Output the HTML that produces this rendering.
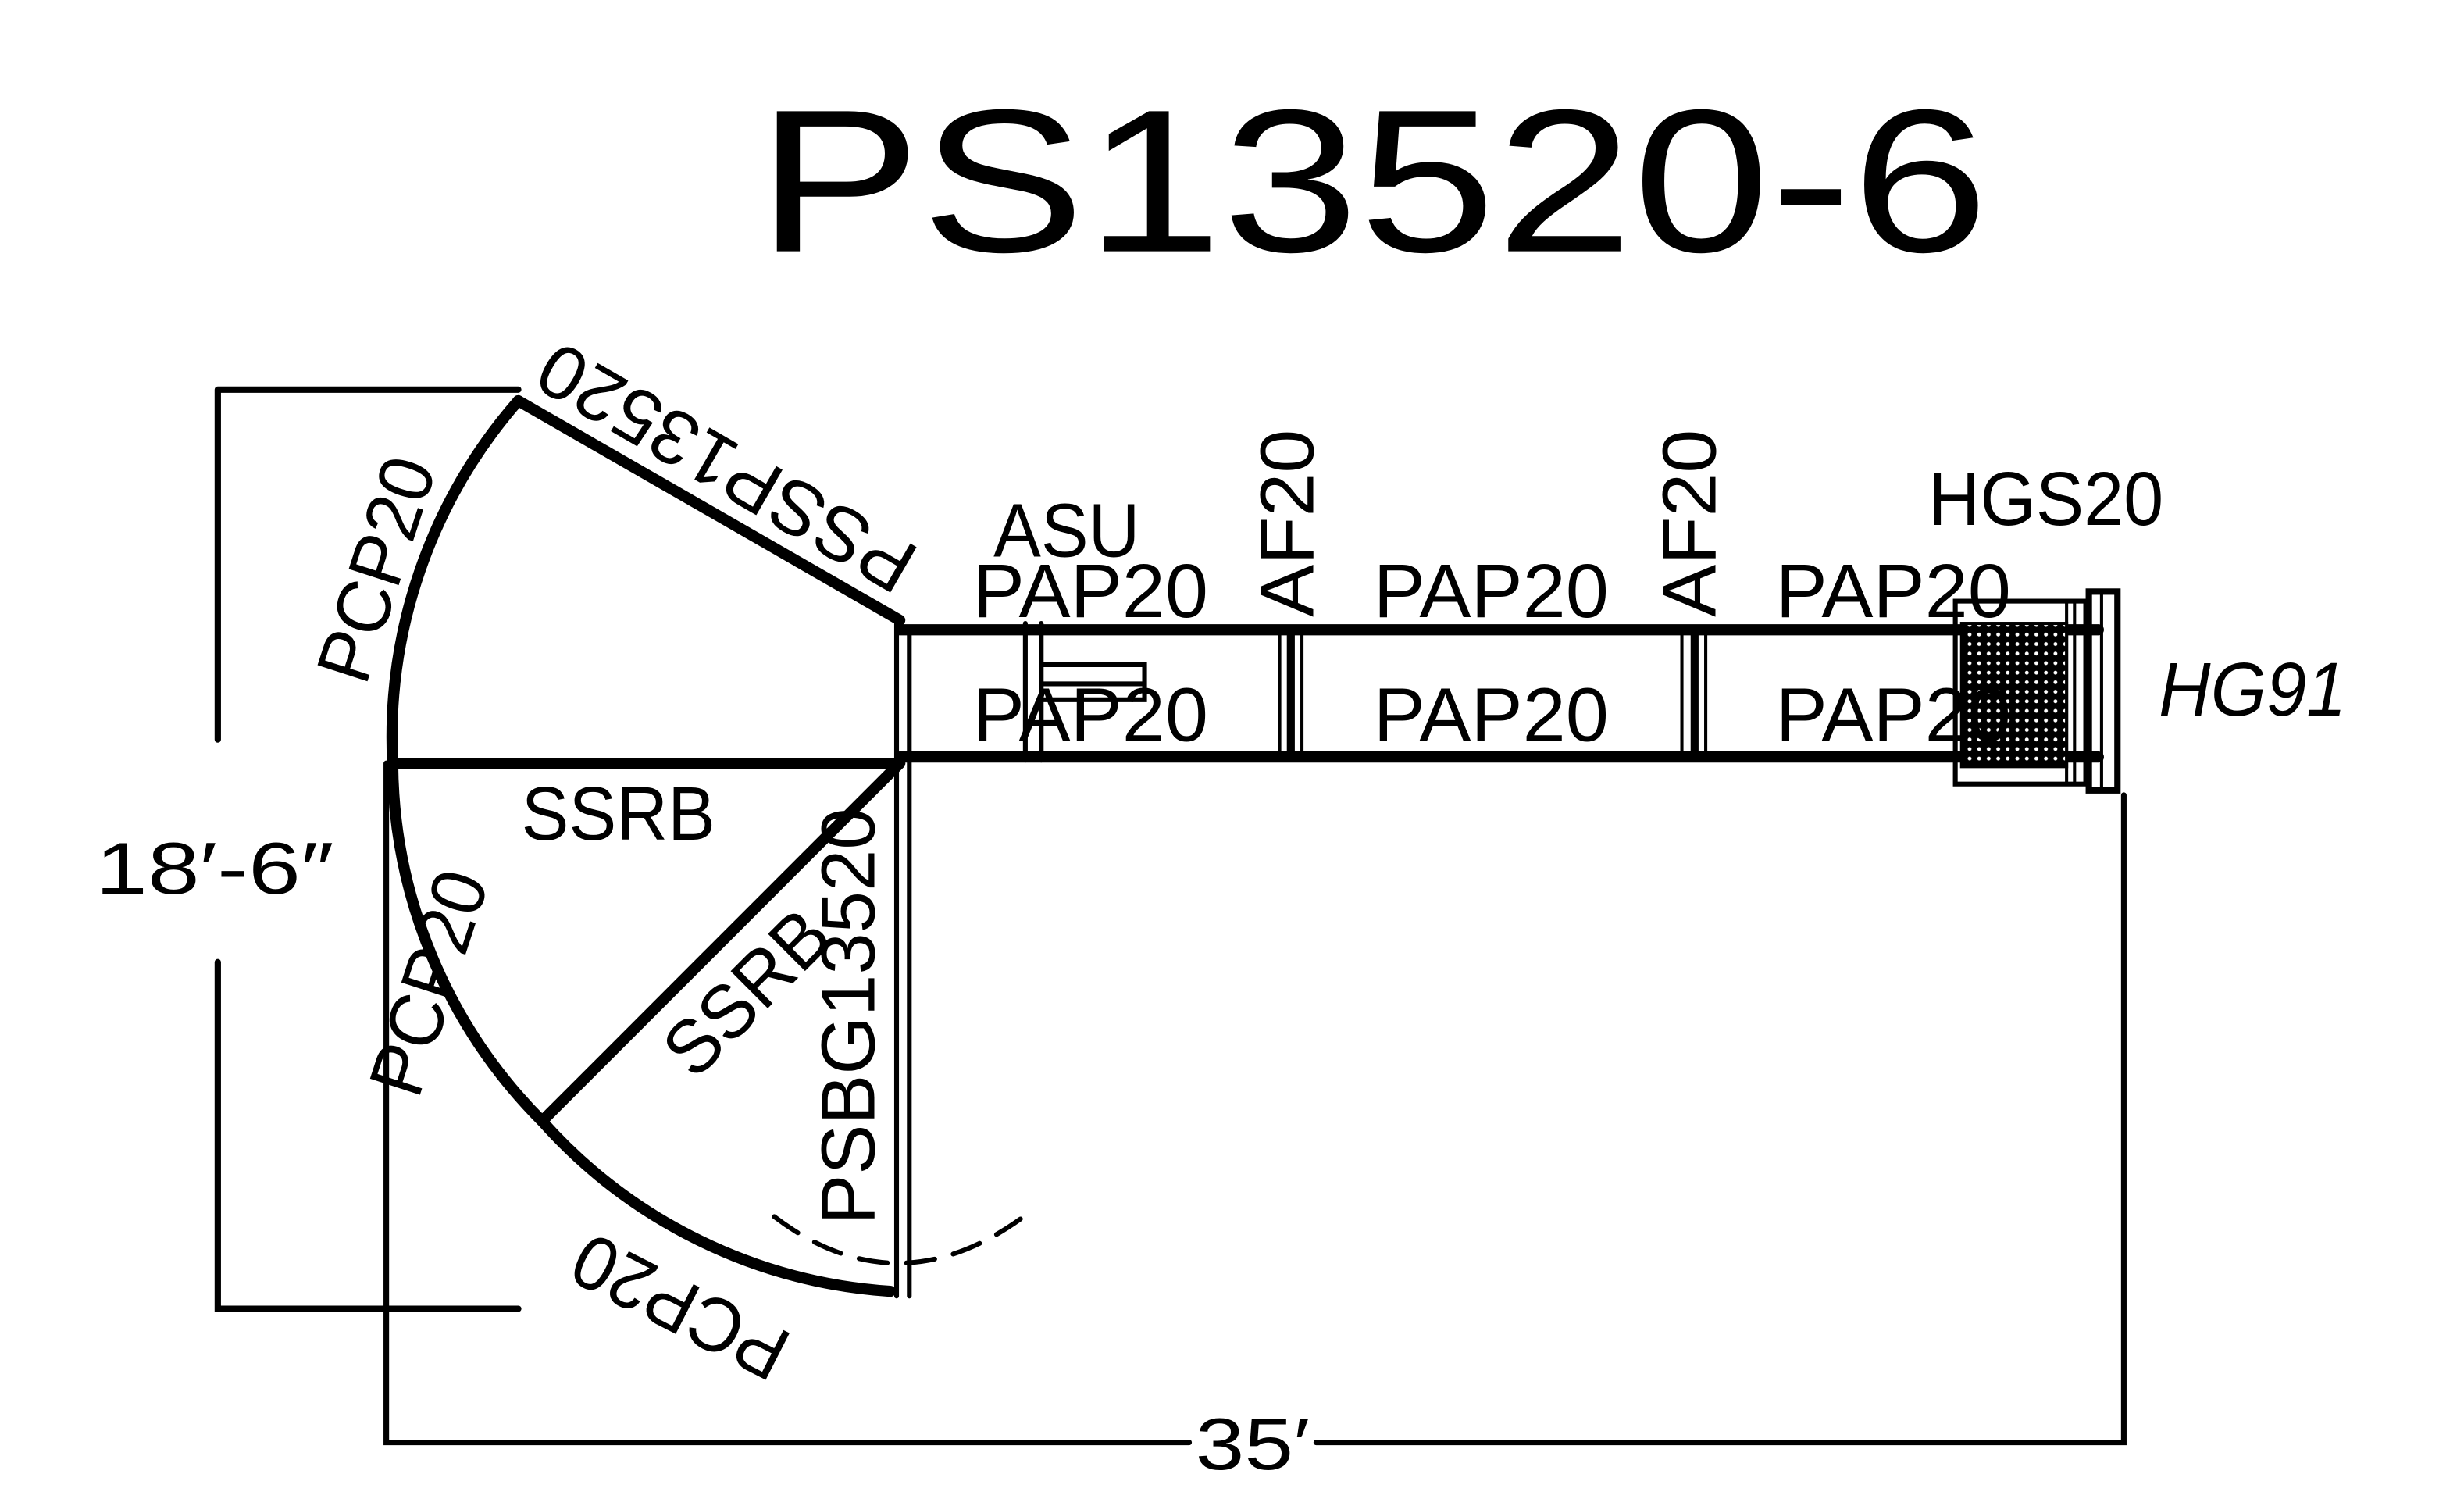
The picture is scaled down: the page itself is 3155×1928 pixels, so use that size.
<!DOCTYPE html>
<html><head><style>html,body{margin:0;padding:0;background:#fff;}svg{display:block}</style></head>
<body>
<svg width="3155" height="1928" viewBox="0 0 1550 947" preserveAspectRatio="none" xmlns="http://www.w3.org/2000/svg">
<rect width="1550" height="947" fill="#fff"/>
<g font-family="Liberation Sans, sans-serif" fill="#000">
<text x="476" y="158" font-size="128" textLength="775" lengthAdjust="spacingAndGlyphs">PS13520-6</text>
</g>
<g fill="none" stroke="#000" stroke-linecap="round">
<path d="M137 245 H326 M137 245 V465 M137 605 V823 H326" stroke-width="4"/>
<path d="M243 480 V907 H748 M828 907 H1336 V500" stroke-width="3.5"/>
<path d="M326 252 A322 322 0 0 0 247 480 A322 322 0 0 0 341 705 A322 322 0 0 0 560 812" stroke-width="7"/>
<path d="M326 252 L566 390" stroke-width="7"/>
<path d="M247 480 H566" stroke-width="7"/>
<path d="M566 480 L341 705" stroke-width="7"/>
<path d="M564 390 V815 M572 395 V815" stroke-width="3"/>
<path d="M487 765 Q566 825 648 762" stroke-width="3" stroke-dasharray="18 12"/>
<path d="M566 396 H1320 M566 476 H1320" stroke-width="7"/>
<path d="M812 396 V476 M1066 396 V476" stroke-width="5"/>
<path d="M805 396 V476 M1058 396 V476 M819 396 V476 M1073 396 V476" stroke-width="2"/>
<path d="M645 392 V478 M655 392 V478 M655 418 H720 V440 H655 M655 430 H720" stroke-width="3"/>
<rect x="1230" y="378" width="82" height="115" stroke-width="3"/>
<path d="M1300 378 V493 M1305 378 V493" stroke-width="2"/>
<rect x="1314" y="372" width="18" height="125" stroke-width="4"/>
<path d="M1322 372 V497" stroke-width="2"/>
</g>
<defs><pattern id="h" width="6" height="6" patternUnits="userSpaceOnUse"><rect width="6" height="6" fill="#000"/><circle cx="3" cy="3" r="1.2" fill="#fff"/></pattern></defs>
<rect x="1234" y="392" width="66" height="90" fill="url(#h)" stroke="#000" stroke-width="2"/>
<g font-family="Liberation Sans, sans-serif" fill="#000" font-size="48">
<text x="60" y="562" font-size="46" textLength="150" lengthAdjust="spacingAndGlyphs">18′-6″</text>
<text x="752" y="924" font-size="46" textLength="72" lengthAdjust="spacingAndGlyphs">35′</text>
<text x="625" y="350" textLength="92" lengthAdjust="spacingAndGlyphs">ASU</text>
<text x="612" y="388" textLength="148" lengthAdjust="spacingAndGlyphs">PAP20</text>
<text x="864" y="388" textLength="148" lengthAdjust="spacingAndGlyphs">PAP20</text>
<text x="1117" y="388" textLength="148" lengthAdjust="spacingAndGlyphs">PAP20</text>
<text x="612" y="466" textLength="148" lengthAdjust="spacingAndGlyphs">PAP20</text>
<text x="864" y="466" textLength="148" lengthAdjust="spacingAndGlyphs">PAP20</text>
<text x="1117" y="466" textLength="148" lengthAdjust="spacingAndGlyphs">PAP20</text>
<text x="1213" y="330" textLength="148" lengthAdjust="spacingAndGlyphs">HGS20</text>
<text x="1358" y="450" font-style="italic" textLength="118" lengthAdjust="spacingAndGlyphs">HG91</text>
<text transform="translate(826,388) rotate(-90)" textLength="118" lengthAdjust="spacingAndGlyphs">AF20</text>
<text transform="translate(1079,388) rotate(-90)" textLength="118" lengthAdjust="spacingAndGlyphs">AF20</text>
<text x="328" y="528" textLength="122" lengthAdjust="spacingAndGlyphs">SSRB</text>
<text transform="translate(550,770) rotate(-90)" textLength="262" lengthAdjust="spacingAndGlyphs">PSBG13520</text>
<text transform="translate(437,680) rotate(-45)" textLength="125" lengthAdjust="spacingAndGlyphs">SSRB</text>
<text transform="translate(230,432) rotate(-72)" textLength="145" lengthAdjust="spacingAndGlyphs">PCP20</text>
<text transform="translate(263,692) rotate(-72)" textLength="145" lengthAdjust="spacingAndGlyphs">PCP20</text>
<text transform="translate(500,840) rotate(207)" textLength="145" lengthAdjust="spacingAndGlyphs">PCP20</text>
<text transform="translate(580,346) rotate(210)" textLength="265" lengthAdjust="spacingAndGlyphs">PSSP13520</text>
</g>
</svg>
</body></html>
